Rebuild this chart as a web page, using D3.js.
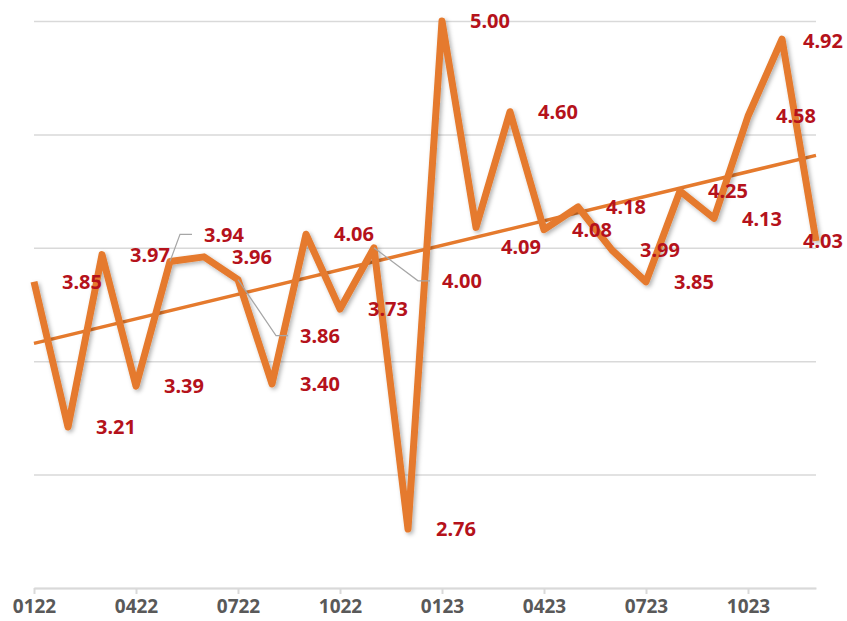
<!DOCTYPE html>
<html>
<head>
<meta charset="utf-8">
<script src="https://cdn.jsdelivr.net/npm/d3@7"></script>
<style>
  body { margin: 0; background: #fff; }
  svg { display: block; font-family: "Noto Sans", "Open Sans", sans-serif; }
</style>
</head>
<body>
<script>
// Data
const months = ["0122", "0222", "0322", "0422", "0522", "0622", "0722", "0822", "0922", "1022", "1122", "1222",
                "0123", "0223", "0323", "0423", "0523", "0623", "0723", "0823", "0923", "1023", "1123", "1223"];
const values = [3.85, 3.21, 3.97, 3.39, 3.94, 3.96, 3.86, 3.40, 4.06, 3.73, 4.00, 2.76,
                5.00, 4.09, 4.60, 4.08, 4.18, 3.99, 3.85, 4.25, 4.13, 4.58, 4.92, 4.03];
const xTickLabels = ["0122", "0422", "0722", "1022", "0123", "0423", "0723", "1023"];
const gridValues = [2.5, 3.0, 3.5, 4.0, 4.5, 5.0];

// label nudges (pixels) for the labels that were dragged off their default spot
const labelShift = {
    4: { dx: 34, dy: -27, leader: true },
    6: { dx: 62, dy: 56, leader: true },
    10: { dx: 68, dy: 33, leader: true },
    13: { dx: 25, dy: 19 },
    22: { dx: 21, dy: 2 },
    23: { dx: -13, dy: 0 }
};

const width = 847, height = 621,
    plot = { left: 34, right: 816, top: 21, bottom: 588 },
    orange = "#E57A2D",
    labelRed = "#B5121B";

const svg = d3.select("body").append("svg")
    .attr("width", width)
    .attr("height", height);

const defs = svg.append("defs");
const shadow = defs.append("filter")
    .attr("id", "shadow")
    .attr("x", "-10%").attr("y", "-10%")
    .attr("width", "120%").attr("height", "120%");
shadow.append("feDropShadow")
    .attr("dx", 2).attr("dy", 2)
    .attr("stdDeviation", 2)
    .attr("flood-color", "#000")
    .attr("flood-opacity", 0.3);

// Scales
const x = d3.scalePoint().domain(months).range([plot.left, plot.right]);
const y = d3.scaleLinear().domain([2.5, 5]).range([plot.bottom, plot.top]);

// Gridlines
const grid = svg.append("g")
    .attr("transform", `translate(${plot.left},0)`)
    .call(d3.axisLeft(y).tickValues(gridValues).tickSize(-(plot.right - plot.left)).tickFormat(""));
grid.select(".domain").remove();
grid.selectAll("line").attr("stroke", "#d9d9d9").attr("stroke-width", 1.5);

// X axis
const xAxis = svg.append("g")
    .attr("transform", `translate(0,${plot.bottom})`)
    .call(d3.axisBottom(x).tickValues(xTickLabels).tickSize(6).tickSizeOuter(0));
xAxis.select(".domain").attr("stroke", "#d9d9d9").attr("stroke-width", 2);
xAxis.selectAll(".tick line").attr("stroke", "#d9d9d9").attr("stroke-width", 2);
xAxis.selectAll(".tick text")
    .attr("y", 12)
    .attr("fill", "#595959")
    .attr("font-size", 19)
    .attr("font-weight", "bold")
    .attr("font-family", "'Noto Sans', sans-serif");

// Trend line (least squares over the series)
const n = values.length,
    idx = d3.range(n),
    mx = d3.mean(idx),
    my = d3.mean(values),
    slope = d3.sum(idx, i => (i - mx) * (values[i] - my)) / d3.sum(idx, i => (i - mx) * (i - mx)),
    icpt = my - slope * mx;

svg.append("line")
    .attr("x1", x(months[0]))
    .attr("y1", y(icpt))
    .attr("x2", x(months[n - 1]))
    .attr("y2", y(icpt + slope * (n - 1)))
    .attr("stroke", orange)
    .attr("stroke-width", 3.5);

// Main line
const line = d3.line()
    .x((d, i) => x(months[i]))
    .y(d => y(d));

svg.append("path")
    .datum(values)
    .attr("fill", "none")
    .attr("stroke", orange)
    .attr("stroke-width", 7)
    .attr("stroke-linejoin", "round")
    .attr("filter", "url(#shadow)")
    .attr("d", line);

// Leader lines
values.forEach((v, i) => {
    const s = labelShift[i];
    if (!s || !s.leader) return;
    const px = x(months[i]), py = y(v),
        lx = px + s.dx, ly = py + s.dy;
    svg.append("polyline")
        .attr("points", `${px},${py} ${lx - 24},${ly} ${lx - 12},${ly}`)
        .attr("fill", "none")
        .attr("stroke", "#a6a6a6")
        .attr("stroke-width", 1.2);
});

// Data labels
svg.append("g")
    .selectAll("text")
    .data(values)
    .join("text")
    .attr("x", (d, i) => x(months[i]) + (labelShift[i] ? labelShift[i].dx : 28))
    .attr("y", (d, i) => y(d) + (labelShift[i] ? labelShift[i].dy : 0))
    .attr("dy", "0.36em")
    .attr("fill", labelRed)
    .attr("font-size", 20)
    .attr("font-weight", "bold")
    .text(d => d.toFixed(2));
</script>
</body>
</html>
